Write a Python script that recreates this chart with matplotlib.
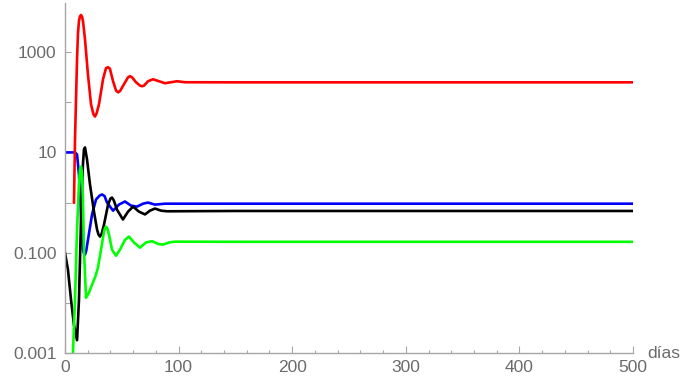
import matplotlib.pyplot as plt
from matplotlib.ticker import MultipleLocator, NullLocator

# --- data (days, value) ---
red_days = [7.9, 8.8, 9.7, 10.6, 11.4, 12.3, 13.2, 14.1, 15.0, 15.8, 17.6, 20.2, 22.9,
            25.0, 26.4, 27.8, 29.9, 33.5, 36.1, 37.9, 39.5, 42.3, 45.0, 46.7, 48.5,
            51.9, 55.5, 57.2, 59.0, 62.5, 66.0, 67.8, 69.6, 73.1, 77.5, 82.7,
            88.0, 93.3, 98.6, 105.6, 150, 500]
red_vals = [1.0, 18, 115, 720, 2300, 4200, 5200, 5500, 5100, 4200, 1800, 360, 91,
            58, 52, 60, 91, 290, 480, 500, 470, 263, 170, 158, 168,
            229, 315, 331, 315, 251, 215, 209, 215, 263, 288, 263,
            240, 251, 263, 251, 250, 250]

blue_days = [0, 8.8, 10.6, 12.3, 14.1, 15.8, 16.7, 17.6, 18.7, 20.2, 23.8, 27.3, 30.5,
             32.6, 34.8, 37.0, 42.3, 47.5, 52.8, 58.1, 63.4, 68.7, 73.0, 79.2, 88.0,
             150, 500]
blue_vals = [10, 10, 9.1, 3.6, 0.58, 0.115, 0.097, 0.091, 0.11, 0.18, 0.58, 1.15, 1.38,
             1.45, 1.35, 1.0, 0.69, 0.91, 1.05, 0.87, 0.83, 0.95, 1.0, 0.91, 0.95,
             0.95, 0.95]

black_days = [0, 2.6, 5.3, 7.9, 10.6, 12.3, 14.1, 15.8, 16.7, 17.6, 19.4, 22.0, 25.5,
              28.2, 29.5, 30.8, 32.3, 34.3, 37.9, 40.0, 41.4, 43.0, 45.8, 51.0, 55.5,
              59.9, 65.1, 70.4, 74.8, 79.2, 84.5, 89.8, 150, 500]
black_vals = [0.1, 0.046, 0.0115, 0.0036, 0.0018, 0.0115, 0.46, 5.8, 11.5, 12.6, 7.2, 2.3, 0.66,
              0.29, 0.23, 0.21, 0.24, 0.36, 0.91, 1.2, 1.26, 1.1, 0.72, 0.46, 0.66,
              0.83, 0.66, 0.58, 0.69, 0.76, 0.69, 0.67, 0.68, 0.68]

green_days = [7.0, 8.8, 10.6, 12.3, 13.2, 14.1, 15.0, 15.8, 16.7, 18.5, 21.1, 23.8, 26.4,
              29.0, 31.7, 34.3, 35.2, 36.1, 37.2, 38.7, 41.4, 44.9, 48.4, 52.8, 56.3,
              60.7, 66.0, 71.3, 76.6, 81.9, 86.3, 91.5, 96.8, 150, 500]
green_vals = [0.001, 0.0115, 0.29, 2.3, 4.5, 5.2, 3.8, 1.15, 0.115, 0.0126, 0.016, 0.023, 0.032,
              0.05, 0.115, 0.26, 0.31, 0.33, 0.31, 0.23, 0.115, 0.087, 0.115, 0.18, 0.21,
              0.16, 0.126, 0.16, 0.17, 0.15, 0.145, 0.16, 0.166, 0.165, 0.165]

y_ticks = [1e-3, 1e-2, 1e-1, 1, 10, 100, 1000]
y_labels = ["0.001", "", "0.100", "", "10", "", "1000"]
x_ticks = [0, 100, 200, 300, 400, 500]

plt.rcParams['font.family'] = ['Liberation Sans', 'DejaVu Sans']
axis_col = '#a6a6a6'
text_col = '#6b6b6b'

fig = plt.figure(figsize=(6.81, 3.85), dpi=100)
ax = fig.add_axes([65 / 681, 32 / 385, 568 / 681, 350 / 385])

lw = 1.9
ax.plot(blue_days, blue_vals, color='#0000ff', lw=lw)
ax.plot(black_days, black_vals, color='black', lw=lw)
ax.plot(green_days, green_vals, color='#00ff00', lw=lw)
ax.plot(red_days, red_vals, color='#ff0000', lw=lw)

ax.set_yscale('log')
ax.set_xlim(0, 500)
ax.set_ylim(1e-3, 10 ** 3.98)

ax.set_yticks(y_ticks)
ax.set_yticklabels(y_labels)
ax.yaxis.set_minor_locator(NullLocator())
ax.set_xticks(x_ticks)
ax.xaxis.set_minor_locator(MultipleLocator(20))

for s in ['top', 'right']:
    ax.spines[s].set_visible(False)
for s in ['left', 'bottom']:
    ax.spines[s].set_color(axis_col)
    ax.spines[s].set_linewidth(1.0)

ax.tick_params(axis='both', which='both', direction='in', color=axis_col,
               labelcolor=text_col, labelsize=12.5, width=0.8)
ax.tick_params(axis='y', which='major', length=4, pad=6)
ax.tick_params(axis='x', which='major', length=5, pad=5)
ax.tick_params(axis='x', which='minor', length=2.5)

ax.annotate('días', xy=(1, 0), xycoords='axes fraction', xytext=(10, 0),
            textcoords='offset points', va='center', ha='left',
            color=text_col, fontsize=12.5, annotation_clip=False)

fig.savefig('out.png', dpi=100)
